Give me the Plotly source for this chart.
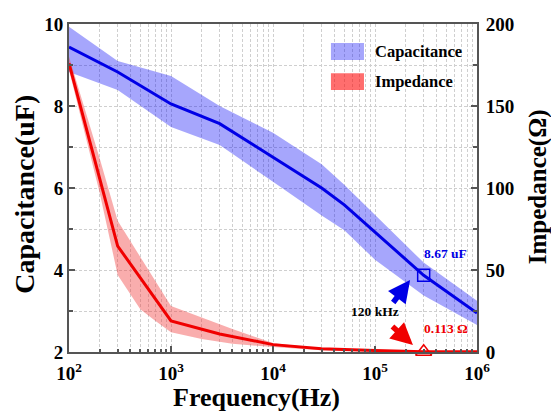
import plotly.graph_objects as go

# Capacitance (uF) vs frequency, with spread band
cap_freq = [1e2, 3e2, 1e3, 3e3, 1e4, 3e4, 5e4, 1e5, 3e5, 1e6]
cap_mean = [9.44, 8.83, 8.05, 7.57, 6.75, 6.00, 5.59, 4.92, 3.87, 2.95]
cap_upper = [9.93, 9.10, 8.73, 8.00, 7.35, 6.58, 6.08, 5.34, 4.18, 3.25]
cap_lower = [8.83, 8.39, 7.49, 7.05, 6.15, 5.33, 4.97, 4.25, 3.38, 2.66]

# Impedance (Ohm) vs frequency
imp_freq = [1e2, 3e2, 1e3, 3e3, 1e4, 3e4, 1e5, 3e5, 1e6]
imp_mean = [176, 64.6, 19, 11, 4.5, 2.0, 0.9, 0.113, 0.1]
band_freq = [1e2, 2e2, 3e2, 5e2, 7e2, 1e3, 2e3, 4e3, 1e4, 3e4, 1e5, 1e6]
imp_upper = [180, 118, 80, 58, 44, 28, 21, 14, 5.5, 2.0, 0.9, 0.3]
imp_lower = [172, 97, 47, 26, 19, 12, 8, 5, 3, 1, 0.3, 0.05]

# Highlighted point
mark_freq = 3e5
mark_cap = 3.87
mark_imp = 0.113

x_ticks = [1e2, 1e3, 1e4, 1e5, 1e6]
x_ticktext = ["10<sup>2</sup>", "10<sup>3</sup>", "10<sup>4</sup>", "10<sup>5</sup>", "10<sup>6</sup>"]
x_minor = [m * 10 ** e for e in range(2, 6) for m in range(2, 10)]
y1_ticks = [2, 4, 6, 8, 10]
y1_minor = [3, 5, 7, 9]
y2_ticks = [0, 50, 100, 150, 200]
y2_minor = [25, 75, 125, 175]

FONT = "Liberation Serif"
BLUE = "#0000e6"
RED = "#f00000"
BLUE_FILL = "rgba(0,0,245,0.35)"
RED_FILL = "rgba(240,60,60,0.42)"
RED_SWATCH = "rgba(255,0,0,0.57)"
GRID = "#cfcfcf"
GRID_DASH = "3px,2px"
AXIS = "#555555"

fig = go.Figure()

fig.add_trace(go.Scatter(
    x=cap_freq + cap_freq[::-1], y=cap_upper + cap_lower[::-1],
    fill="toself", fillcolor=BLUE_FILL, line=dict(width=0),
    mode="lines", hoverinfo="skip", showlegend=False, yaxis="y"))
fig.add_trace(go.Scatter(
    x=cap_freq, y=cap_mean, mode="lines",
    line=dict(color=BLUE, width=3), showlegend=False, yaxis="y"))
fig.add_trace(go.Scatter(
    x=[mark_freq], y=[mark_cap], mode="markers",
    marker=dict(symbol="square-open", size=12, color=BLUE, line=dict(width=1.5)),
    showlegend=False, yaxis="y"))

fig.add_trace(go.Scatter(
    x=band_freq + band_freq[::-1], y=imp_upper + imp_lower[::-1],
    fill="toself", fillcolor=RED_FILL, line=dict(width=0),
    mode="lines", hoverinfo="skip", showlegend=False, yaxis="y2"))
fig.add_trace(go.Scatter(
    x=imp_freq, y=imp_mean, mode="lines",
    line=dict(color=RED, width=3), showlegend=False, yaxis="y2", cliponaxis=False))
fig.add_trace(go.Scatter(
    x=[mark_freq], y=[mark_imp], mode="markers",
    marker=dict(symbol="triangle-up-open", size=14, color=RED, line=dict(width=1.5)),
    showlegend=False, yaxis="y2", cliponaxis=False))

tickfont = dict(family=FONT, size=19, color="black", weight="bold")

fig.update_layout(
    width=551, height=412,
    margin=dict(l=69, r=74, t=24, b=60),
    paper_bgcolor="white", plot_bgcolor="white",
    font=dict(family=FONT, color="black"),
    xaxis=dict(
        type="log", range=[2, 6],
        tickvals=x_ticks, ticktext=x_ticktext, tickfont=tickfont,
        ticks="inside", ticklen=6, tickwidth=1.5, tickcolor=AXIS,
        ticklabelstandoff=3,
        showline=True, linecolor=AXIS, linewidth=2, mirror=True,
        showgrid=True, gridcolor=GRID, griddash=GRID_DASH, gridwidth=1,
        minor=dict(tickvals=x_minor, ticks="inside", ticklen=3, tickcolor=AXIS,
                   showgrid=True, gridcolor=GRID, griddash=GRID_DASH, gridwidth=1),
        zeroline=False,
    ),
    yaxis=dict(
        range=[2, 10], tickvals=y1_ticks, tickfont=tickfont,
        ticks="inside", ticklen=6, tickwidth=1.5, tickcolor=AXIS,
        showline=True, linecolor=AXIS, linewidth=2, mirror=True,
        showgrid=True, gridcolor=GRID, griddash=GRID_DASH, gridwidth=1,
        minor=dict(tickvals=y1_minor, ticks="inside", ticklen=4, tickcolor=AXIS,
                   showgrid=True, gridcolor=GRID, griddash=GRID_DASH, gridwidth=1),
        zeroline=False,
    ),
    yaxis2=dict(
        range=[0, 200], overlaying="y", side="right",
        tickvals=y2_ticks, tickfont=tickfont,
        ticks="inside", ticklen=6, tickwidth=1.5, tickcolor=AXIS,
        ticklabelstandoff=3,
        showline=True, linecolor=AXIS, linewidth=2,
        minor=dict(tickvals=y2_minor, ticks="inside", ticklen=4, tickcolor=AXIS),
        showgrid=False, zeroline=False,
    ),
)

# Axis titles
fig.add_annotation(text="Frequency(Hz)", xref="paper", yref="paper",
                   x=0.46, y=-0.14, xanchor="center", yanchor="middle",
                   showarrow=False,
                   font=dict(family=FONT, size=26, color="black", weight="bold"))
fig.add_annotation(text="Capacitance(uF)", xref="paper", yref="paper",
                   x=-0.108, y=0.482, xanchor="center", yanchor="middle",
                   textangle=-90, showarrow=False,
                   font=dict(family=FONT, size=28, color="black", weight="bold"))
fig.add_annotation(text="Impedance(Ω)", xref="paper", yref="paper",
                   x=1.15, y=0.503, xanchor="center", yanchor="middle",
                   textangle=-90, showarrow=False,
                   font=dict(family=FONT, size=25, color="black", weight="bold"))

# Legend
legend_font = dict(family=FONT, size=16.5, color="black", weight="bold")
fig.add_shape(type="rect", xref="paper", yref="paper",
              x0=0.642, x1=0.723, y0=0.890, y1=0.942,
              fillcolor=BLUE_FILL, line=dict(width=0))
fig.add_shape(type="rect", xref="paper", yref="paper",
              x0=0.642, x1=0.723, y0=0.799, y1=0.850,
              fillcolor=RED_SWATCH, line=dict(width=0))
fig.add_annotation(text="Capacitance", xref="paper", yref="paper",
                   x=0.745, y=0.916, xanchor="left", yanchor="middle",
                   showarrow=False, font=legend_font)
fig.add_annotation(text="Impedance", xref="paper", yref="paper",
                   x=0.745, y=0.825, xanchor="left", yanchor="middle",
                   showarrow=False, font=legend_font)

# Callouts
note_font = dict(family=FONT, size=13.5, weight="bold")
fig.add_annotation(text="8.67 uF", xref="paper", yref="paper", x=0.924, y=0.300,
                   xanchor="center", yanchor="middle",
                   showarrow=False, font=dict(note_font, color=BLUE))
fig.add_annotation(text="0.113 Ω", xref="paper", yref="paper", x=0.924, y=0.072,
                   xanchor="center", yanchor="middle",
                   showarrow=False, font=dict(note_font, color=RED))
fig.add_annotation(text="120 kHz", xref="paper", yref="paper", x=0.75, y=0.122,
                   xanchor="center", yanchor="middle",
                   showarrow=False, font=dict(note_font, color="black"))
fig.add_annotation(text="", xref="paper", yref="paper", x=0.836, y=0.2195,
                   ax=-18, ay=24, showarrow=True, arrowhead=2, arrowsize=0.8,
                   arrowwidth=5.5, arrowcolor=BLUE, standoff=0)
fig.add_annotation(text="", xref="paper", yref="paper", x=0.843, y=0.021,
                   ax=-22, ay=-20, showarrow=True, arrowhead=2, arrowsize=0.8,
                   arrowwidth=5.5, arrowcolor=RED, standoff=0)

fig.write_html("out.html")
